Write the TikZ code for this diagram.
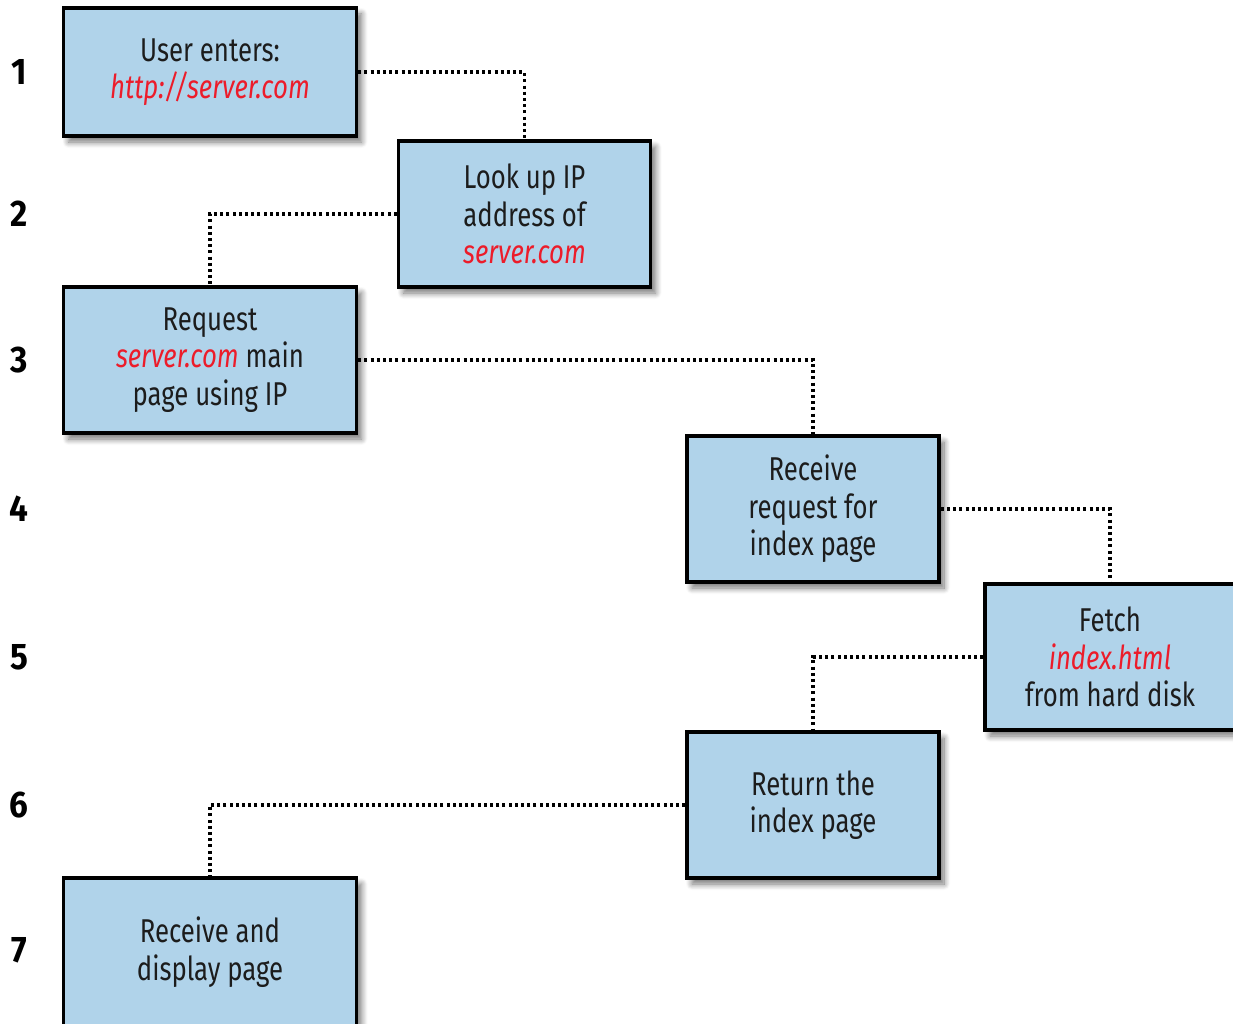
\documentclass[tikz,border=0pt]{standalone}
\usepackage{fontspec}
\setmainfont{Fira Sans}[FakeStretch=0.78]
\newfontfamily\numfont{Fira Sans}[FakeStretch=0.9]
\usetikzlibrary{shadows.blur}
\definecolor{boxblue}{HTML}{B0D3EA}
\definecolor{urlred}{HTML}{EC1C2A}
\definecolor{txt}{HTML}{1C1C1C}
\newcommand{\rd}[1]{{\color{urlred}\itshape #1}}
\tikzset{
  flowbox/.style={draw=black, line width=3.5pt, fill=boxblue, rectangle, align=center,
    text=txt, font=\fontsize{33}{37.5}\selectfont, inner sep=0pt,
    blur shadow={shadow xshift=5pt, shadow yshift=-6pt, shadow blur steps=10, shadow blur radius=6pt, shadow opacity=55}},
  widebox/.style={flowbox, minimum width=293pt, minimum height=128pt},
  narrowbox/.style={flowbox, minimum width=252pt, minimum height=146pt},
  stepnum/.style={font=\numfont\bfseries\fontsize{37}{40}\selectfont, text=black, inner sep=0pt},
  conn/.style={line width=3.4pt, dash pattern=on 3pt off 3.2pt, black},
}
\begin{document}
\begin{tikzpicture}[x=1pt, y=-1pt]
\useasboundingbox (0,0) rectangle (1233,1024);
% step numbers
\node[stepnum] (n1) at (19,72) {1};
\node[stepnum] (n2) at (19,214) {2};
\node[stepnum] (n3) at (19,360) {3};
\node[stepnum] (n4) at (19,509) {4};
\node[stepnum] (n5) at (19,657) {5};
\node[stepnum] (n6) at (19,805) {6};
\node[stepnum] (n7) at (19,950) {7};
% boxes
\node[widebox] (b1) at (210,72) {User enters:\\\rd{http://server.com}};
\node[narrowbox] (b2) at (524.5,214) {Look up IP\\address of\\\rd{server.com}};
\node[widebox, minimum height=146pt] (b3) at (210,360) {Request\\\rd{server.com} main\\page using IP};
\node[narrowbox] (b4) at (813,509) {Receive\\request for\\index page};
\node[flowbox, minimum width=250pt, minimum height=146pt] (b5) at (1110,657) {Fetch\\\rd{index.html}\\from hard disk};
\node[narrowbox] (b6) at (813,805) {Return the\\index page};
\node[widebox, minimum height=148pt] (b7) at (210,952) {Receive and\\display page};
% connectors
\draw[conn] (b1.east) -| (b2.north);
\draw[conn] (b2.west) -| (b3.north);
\draw[conn] (b3.east) -| (b4.north);
\draw[conn] (b4.east) -| (b5.north);
\draw[conn] (b5.west) -| (b6.north);
\draw[conn] (b6.west) -| (b7.north);
\end{tikzpicture}
\end{document}
